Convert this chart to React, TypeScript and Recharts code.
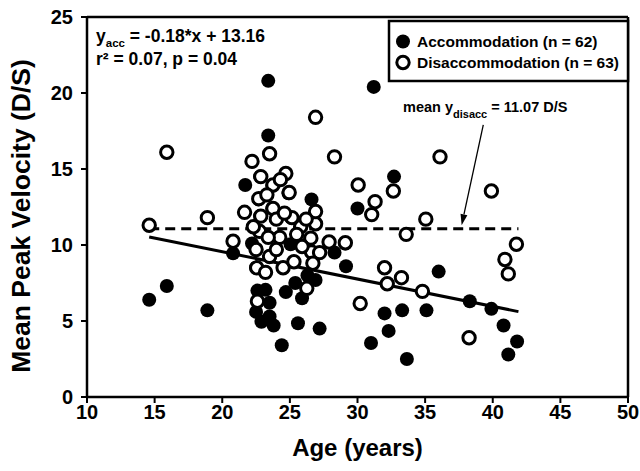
import React from 'react';
import {
  ScatterChart,
  Scatter,
  XAxis,
  YAxis,
  ReferenceLine,
} from 'recharts';

// age (years), mean peak velocity (D/S)
const accommodation = [
  [14.6, 6.4], [15.9, 7.3], [18.9, 5.7], [20.8, 9.45], [21.7, 13.95],
  [23.4, 20.8], [23.4, 17.2], [31.2, 20.4], [32.7, 14.5], [30.0, 12.4],
  [26.6, 13.0], [25.05, 10.05], [22.2, 10.1], [28.3, 9.5], [29.15, 8.6],
  [36.0, 8.25], [38.3, 6.3], [39.9, 5.8], [40.8, 4.7], [41.8, 3.65],
  [41.15, 2.8], [35.1, 5.7], [33.3, 5.7], [32.0, 5.5], [32.3, 4.35],
  [31.0, 3.55], [33.65, 2.5], [27.2, 4.5], [25.6, 4.85], [24.4, 3.4],
  [23.8, 4.7], [22.9, 4.95], [23.5, 5.3], [22.5, 5.6], [23.5, 6.2],
  [22.6, 7.0], [23.2, 7.05], [24.7, 6.9], [25.4, 7.5], [25.9, 6.5],
  [26.9, 7.7], [26.3, 8.0], [22.7, 13.0], [23.7, 12.4], [22.8, 11.9],
  [24.0, 11.7], [25.1, 11.8], [25.8, 11.2], [26.9, 11.4], [24.9, 13.4],
  [23.7, 13.9], [22.8, 14.5], [26.5, 10.4], [24.2, 10.5], [27.9, 10.2],
  [29.1, 10.1], [22.5, 9.7], [23.5, 9.2], [22.5, 8.5], [23.2, 8.2],
  [24.5, 8.5], [26.6, 9.5],
];

const disaccommodation = [
  [14.6, 11.3], [15.9, 16.1], [18.9, 11.8], [20.8, 10.25], [21.65, 12.15],
  [22.2, 15.5], [22.85, 14.5], [23.5, 16.0], [23.75, 13.95], [24.7, 14.7],
  [24.95, 13.45], [22.7, 13.05], [23.75, 12.4], [22.85, 11.9], [24.0, 11.7],
  [25.15, 11.8], [25.8, 11.2], [26.9, 11.4], [26.9, 12.2], [26.9, 18.4],
  [28.3, 15.8], [30.05, 13.95], [32.65, 13.55], [31.3, 12.85], [31.05, 12.0],
  [35.05, 11.7], [36.1, 15.8], [39.9, 13.55], [41.75, 10.05], [40.9, 9.05],
  [41.15, 8.1], [33.6, 10.7], [38.25, 3.9], [34.8, 6.95], [32.2, 7.45],
  [33.25, 7.85], [32.0, 8.5], [30.2, 6.15], [29.1, 10.15], [27.9, 10.2],
  [26.55, 10.45], [24.25, 10.5], [22.5, 9.7], [23.5, 9.25], [22.55, 8.5],
  [23.2, 8.2], [24.5, 8.5], [26.6, 9.55], [27.2, 9.5], [26.7, 8.8],
  [26.25, 7.15], [22.6, 6.3], [22.75, 10.9], [23.4, 10.5], [22.3, 11.2],
  [24.6, 12.1], [25.5, 10.7], [23.3, 13.3], [24.3, 14.3], [26.2, 11.7],
  [25.9, 9.9], [24.0, 9.7], [25.3, 8.9],
];

const xTicks = [10, 15, 20, 25, 30, 35, 40, 45, 50];
const yTicks = [0, 5, 10, 15, 20, 25];

// linear fit for accommodation, mean of disaccommodation
const accSlope = -0.18;
const accIntercept = 13.16;
const disaccMean = 11.07;
const fitRange = [14.6, 41.9];

// pointer from the mean label down to the dashed line
const arrowFrom = { x: 39.3, y: 17.9 };
const arrowTo = { x: 37.7, y: 11.3 };

const toPoints = (rows: number[][]) => rows.map(([x, y]) => ({ x, y }));

const FONT = '"Liberation Sans", Arial, Helvetica, sans-serif';

document.body.style.margin = '0';

const FilledDot = (p: any) => <circle cx={p.cx} cy={p.cy} r={7} fill="#000" />;
const OpenDot = (p: any) => (
  <circle cx={p.cx} cy={p.cy} r={6.2} fill="#fff" stroke="#000" strokeWidth={3} />
);

const Arrow = (p: any) => {
  const { x1, y1, x2, y2 } = p;
  const a = Math.atan2(y2 - y1, x2 - x1);
  const len = 11;
  const half = 3.5;
  const bx = x2 - len * Math.cos(a);
  const by = y2 - len * Math.sin(a);
  const nx = -Math.sin(a) * half;
  const ny = Math.cos(a) * half;
  return (
    <g>
      <line x1={x1} y1={y1} x2={bx} y2={by} stroke="#000" strokeWidth={1.3} />
      <polygon points={`${x2},${y2} ${bx + nx},${by + ny} ${bx - nx},${by - ny}`} fill="#000" />
    </g>
  );
};

// rotated y-axis title, sitting a little below the plot's middle
const YTitle = (p: any) => {
  const vb = p.viewBox || { x: 0, y: 17, width: 87, height: 380 };
  const cx = vb.x + 21;
  const cy = vb.y + vb.height / 2 + 9;
  return (
    <text
      x={cx}
      y={cy}
      transform={`rotate(-90 ${cx} ${cy})`}
      textAnchor="middle"
      dominantBaseline="central"
      fontSize={26.5}
      fontWeight="bold"
      fill="#000"
    >
      Mean Peak Velocity (D/S)
    </text>
  );
};

export default function App() {
  const fitStart = { x: fitRange[0], y: accSlope * fitRange[0] + accIntercept };
  const fitEnd = { x: fitRange[1], y: accSlope * fitRange[1] + accIntercept };

  return (
    <div style={{ position: 'relative', width: 640, height: 471, fontFamily: FONT, fontWeight: 'bold', background: '#fff' }}>
      <ScatterChart width={640} height={471} margin={{ top: 17, right: 12, bottom: 0, left: 0 }}>
        <XAxis
          type="number"
          dataKey="x"
          domain={[10, 50]}
          ticks={xTicks}
          interval={0}
          height={74}
          axisLine={{ stroke: '#000', strokeWidth: 2.5 }}
          tickLine={{ stroke: '#000', strokeWidth: 2 }}
          tickSize={6}
          tick={{ fill: '#000', fontSize: 20, fontWeight: 'bold' }}
          label={{ value: 'Age (years)', position: 'insideBottom', offset: 15, fill: '#000', fontSize: 24, fontWeight: 'bold' }}
        />
        <YAxis
          type="number"
          dataKey="y"
          domain={[0, 25]}
          ticks={yTicks}
          interval={0}
          width={87}
          axisLine={{ stroke: '#000', strokeWidth: 2.5 }}
          tickLine={{ stroke: '#000', strokeWidth: 2 }}
          tickSize={6}
          tickMargin={8}
          tick={{ fill: '#000', fontSize: 20, fontWeight: 'bold' }}
          label={{ content: YTitle }}
        />
        <ReferenceLine y={25} stroke="#000" strokeWidth={2.5} ifOverflow="visible" />
        <ReferenceLine x={50} stroke="#000" strokeWidth={2.5} ifOverflow="visible" />
        <ReferenceLine
          segment={[{ x: fitRange[0], y: disaccMean }, { x: fitRange[1], y: disaccMean }]}
          stroke="#000"
          strokeWidth={3}
          strokeDasharray="10 6"
        />
        <ReferenceLine segment={[fitStart, fitEnd]} stroke="#000" strokeWidth={3} />
        <Scatter data={toPoints(accommodation)} shape={FilledDot} isAnimationActive={false} />
        <Scatter data={toPoints(disaccommodation)} shape={OpenDot} isAnimationActive={false} />
        <ReferenceLine segment={[arrowFrom, arrowTo]} shape={Arrow} ifOverflow="visible" />
      </ScatterChart>

      <svg width={640} height={471} style={{ position: 'absolute', left: 0, top: 0, pointerEvents: 'none' }}>
        <g fontFamily={FONT} fontWeight="bold" fill="#000">
          <text x={96} y={42} fontSize={17.5}>
            y<tspan fontSize={11.5} dy={5}>acc</tspan>
            <tspan dy={-5}>{` = ${accSlope}*x + ${accIntercept}`}</tspan>
          </text>
          <text x={96} y={65} fontSize={17.5}>r² = 0.07, p = 0.04</text>
          <text x={403} y={112} fontSize={14.5}>
            mean y<tspan fontSize={11} dy={6}>disacc</tspan>
            <tspan dy={-6}>{` = ${disaccMean} D/S`}</tspan>
          </text>

          <rect x={389} y={21} width={239} height={60} fill="#fff" stroke="#000" strokeWidth={2.5} />
          <circle cx={403} cy={41.5} r={7} fill="#000" />
          <text x={417} y={47} fontSize={15.5}>Accommodation (n = 62)</text>
          <circle cx={403} cy={62.5} r={6.2} fill="#fff" stroke="#000" strokeWidth={3} />
          <text x={417} y={68} fontSize={15.5}>Disaccommodation (n = 63)</text>
        </g>
      </svg>
    </div>
  );
}
